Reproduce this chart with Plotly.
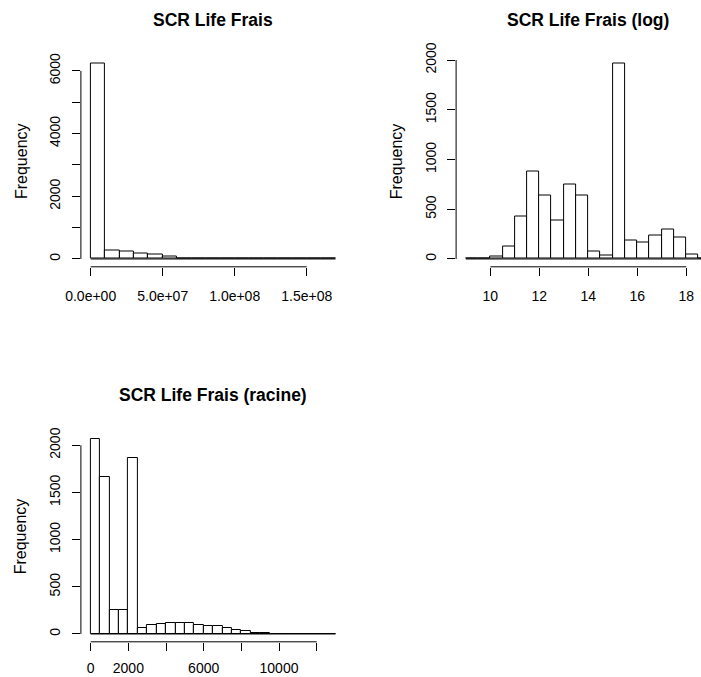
import plotly.graph_objects as go

# ---------------- data ----------------
# Histogram 1: SCR Life Frais (raw values), bin edges and counts
raw_breaks = [0, 1e7, 2e7, 3e7, 4e7, 5e7, 6e7, 7e7, 8e7, 9e7, 1e8,
              1.1e8, 1.2e8, 1.3e8, 1.4e8, 1.5e8, 1.6e8, 1.7e8]
raw_counts = [6240, 277, 223, 182, 128, 64, 30, 20, 5, 3, 2, 1, 1, 0, 1, 0, 1]
raw_xticks = [0, 5e7, 1e8, 1.5e8]
raw_xticktext = ["0.0e+00", "5.0e+07", "1.0e+08", "1.5e+08"]
raw_yticks = [0, 1000, 2000, 3000, 4000, 5000, 6000]
raw_yticktext = ["0", "", "2000", "", "4000", "", "6000"]

# Histogram 2: log
log_breaks = [9, 9.5, 10, 10.5, 11, 11.5, 12, 12.5, 13, 13.5, 14,
              14.5, 15, 15.5, 16, 16.5, 17, 17.5, 18, 18.5, 19]
log_counts = [2, 8, 28, 124, 428, 882, 638, 388, 753, 638, 80,
              37, 1967, 184, 168, 241, 295, 218, 47, 0]
log_xticks = [10, 12, 14, 16, 18]
log_xticktext = ["10", "12", "14", "16", "18"]
log_yticks = [0, 500, 1000, 1500, 2000]
log_yticktext = ["0", "500", "1000", "1500", "2000"]

# Histogram 3: square root
sqrt_breaks = [0, 500, 1000, 1500, 2000, 2500, 3000, 3500, 4000, 4500,
               5000, 5500, 6000, 6500, 7000, 7500, 8000, 8500, 9000,
               9500, 10000, 10500, 11000, 11500, 12000, 12500, 13000]
sqrt_counts = [2068, 1660, 256, 256, 1870, 67, 92, 102, 113, 113,
               113, 100, 90, 81, 60, 42, 28, 11, 7, 3, 1, 1, 0, 0, 0, 1]
sqrt_xticks = [0, 2000, 4000, 6000, 8000, 10000, 12000]
sqrt_xticktext = ["0", "2000", "", "6000", "", "10000", ""]
sqrt_yticks = [0, 500, 1000, 1500, 2000]
sqrt_yticktext = ["0", "500", "1000", "1500", "2000"]

titles = ["SCR Life Frais", "SCR Life Frais (log)", "SCR Life Frais (racine)"]
ylabel = "Frequency"

# ---------------- layout helpers ----------------
W, H = 701, 677
FONT = "Liberation Sans, Arial, Helvetica, sans-serif"
TICK_SIZE = 14
LABEL_SIZE = 16
TITLE_SIZE = 17.5

# plot regions in pixels (left, right, top, bottom); right panel is cropped by the figure edge
regions = [
    (80.9, 345.3, 55.5, 266.8),
    (456.1, 720.5, 55.5, 266.8),
    (80.9, 345.3, 431.0, 641.8),
]
x_label_standoff = [8, 8, 5]

panels = [
    (raw_breaks, raw_counts, raw_xticks, raw_xticktext, raw_yticks, raw_yticktext),
    (log_breaks, log_counts, log_xticks, log_xticktext, log_yticks, log_yticktext),
    (sqrt_breaks, sqrt_counts, sqrt_xticks, sqrt_xticktext, sqrt_yticks, sqrt_yticktext),
]

fig = go.Figure()
shapes = []
annotations = []

for i, ((brk, cnt, xt, xtt, yt, ytt), (l, r, t, b), title) in enumerate(zip(panels, regions, titles)):
    n = "" if i == 0 else str(i + 1)
    xa, ya = "x" + n, "y" + n
    centers = [(brk[k] + brk[k + 1]) / 2 for k in range(len(cnt))]
    widths = [brk[k + 1] - brk[k] for k in range(len(cnt))]
    fig.add_trace(go.Bar(
        x=centers, y=cnt, width=widths, xaxis=xa, yaxis=ya,
        marker=dict(color="white", line=dict(color="black", width=1)),
        showlegend=False, hoverinfo="x+y",
    ))

    lo, hi = brk[0], brk[-1]
    ext = 0.04 * (hi - lo)
    full = [lo - ext, hi + ext]
    if r > W:
        vis = (W - l) / (r - l)
        xrange = [full[0], full[0] + (full[1] - full[0]) * vis]
        xdom = [l / W, 1.0]
    else:
        xrange = full
        xdom = [l / W, r / W]
    ymax = max(cnt)
    yrange = [-0.04 * ymax, 1.04 * ymax]
    ydom = [1 - b / H, 1 - t / H]

    common = dict(showgrid=False, zeroline=False, showline=False, ticks="outside",
                  ticklen=8, tickwidth=1, tickcolor="black", automargin=False,
                  tickfont=dict(family=FONT, size=TICK_SIZE, color="black"))
    fig.update_layout(**{
        ("xaxis" + n): dict(domain=xdom, range=xrange, anchor=ya, tickmode="array",
                            tickvals=xt, ticktext=xtt,
                            ticklabelstandoff=x_label_standoff[i], **common),
        ("yaxis" + n): dict(domain=ydom, range=yrange, anchor=xa, tickmode="array",
                            tickvals=yt, ticktext=ytt, tickangle=-90,
                            ticklabelstandoff=6, **common),
    })

    # axis lines spanning first to last tick (R style)
    shapes.append(dict(type="line", xref=xa, yref=ya + " domain", x0=xt[0], x1=xt[-1],
                       y0=0, y1=0, line=dict(color="black", width=1)))
    shapes.append(dict(type="line", xref=xa + " domain", yref=ya, x0=0, x1=0,
                       y0=yt[0], y1=yt[-1], line=dict(color="black", width=1)))
    # histogram baseline
    shapes.append(dict(type="line", xref=xa, yref=ya, x0=lo, x1=hi, y0=0, y1=0,
                       line=dict(color="black", width=1)))

    annotations.append(dict(text="<b>" + title + "</b>", xref="paper", yref="paper",
                            x=((l + r) / 2) / W, y=1 - (t - 36) / H,
                            xanchor="center", yanchor="middle", showarrow=False,
                            font=dict(family=FONT, size=TITLE_SIZE, color="black")))
    annotations.append(dict(text=ylabel, xref="paper", yref="paper",
                            x=(l - 60) / W, y=1 - ((t + b) / 2) / H, textangle=-90,
                            xanchor="center", yanchor="middle", showarrow=False,
                            font=dict(family=FONT, size=LABEL_SIZE, color="black")))

fig.update_layout(
    template="none",
    width=W, height=H,
    margin=dict(l=0, r=0, t=0, b=0, autoexpand=False),
    paper_bgcolor="white", plot_bgcolor="white",
    bargap=0, showlegend=False,
    shapes=shapes, annotations=annotations,
    font=dict(family=FONT),
)

fig.write_html(
    "out.html",
    config={"displayModeBar": False},
    post_script="document.body.style.margin='0';document.body.style.overflow='hidden';",
)
